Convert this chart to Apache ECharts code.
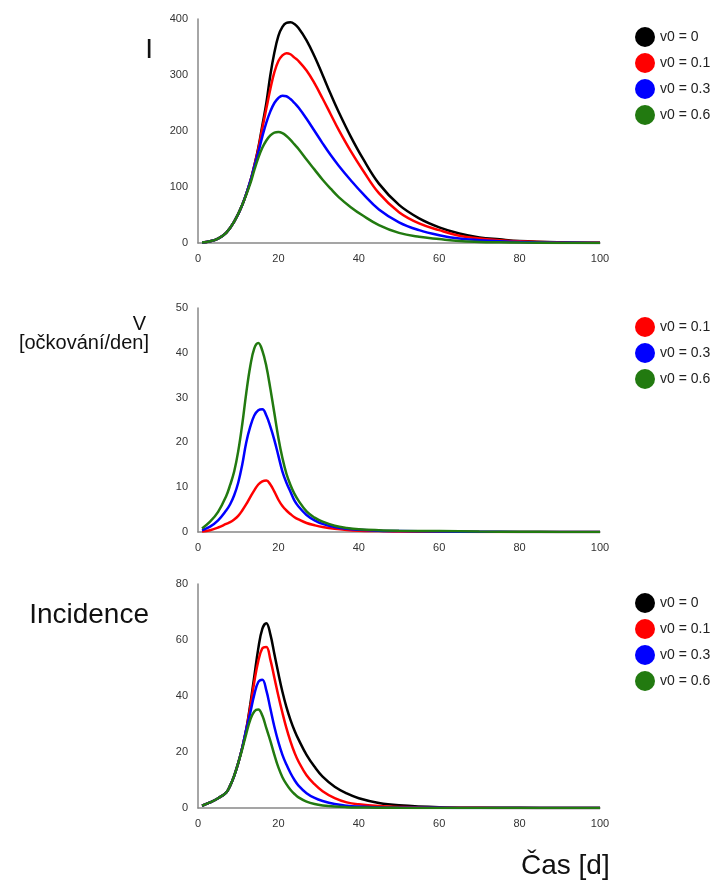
<!DOCTYPE html>
<html>
<head>
<meta charset="utf-8">
<script src="https://cdn.jsdelivr.net/npm/echarts@6/dist/echarts.min.js"></script>
<style>
  html, body { margin: 0; padding: 0; background: #fff; }
  #chart { width: 717px; height: 885px; }
</style>
</head>
<body>
<div id="chart"></div>
<script>
// I (infected) per day
const daysI = [1, 3, 5, 7, 9, 11, 13, 14, 15, 16, 17, 18, 19, 20, 21, 22, 23, 24, 25, 27, 29, 31, 33, 35, 38, 41, 45, 50, 55, 60, 65, 70, 75, 80, 90, 100];
const iV0 = [1, 3, 8, 18, 38, 68, 110, 138, 170, 210, 250, 300, 340, 370, 386, 393, 394, 391, 384, 362, 333, 300, 266, 234, 190, 151, 106, 68, 44, 28, 17, 10, 6.5, 3.5, 1.2, 0.4];
const iV01 = [1, 3, 8, 18, 38, 68, 110, 138, 168, 205, 240, 275, 305, 325, 335, 339, 337, 331, 325, 308, 285, 258, 230, 202, 164, 130, 89, 55, 35, 23, 13, 8, 5, 3, 1, 0.3];
const iV03 = [1, 3, 8, 18, 38, 68, 110, 136, 162, 190, 215, 235, 250, 259, 263, 262, 257, 250, 242, 222, 200, 178, 157, 138, 112, 88, 60, 37, 23, 14, 8, 5, 3, 1.8, 0.6, 0.2];
const iV06 = [1, 3, 8, 18, 38, 68, 106, 130, 152, 170, 183, 192, 197, 198, 196, 191, 184, 176, 168, 149, 131, 113, 97, 82, 64, 49, 32, 18, 11, 7, 3.5, 2, 1.2, 0.7, 0.2, 0.1];

// V (vaccinations per day)
const daysV = [1, 3, 5, 7, 8, 9, 10, 11, 12, 13, 14, 15, 16, 17, 18, 19, 20, 21, 22, 23, 24, 25, 27, 29, 31, 34, 37, 40, 45, 50, 60, 70, 80, 90, 100];
const vV01 = [0.1, 0.4, 1, 1.8, 2.2, 2.8, 3.6, 4.8, 6.2, 7.8, 9.3, 10.6, 11.3, 11.5, 10.6, 9, 7.2, 5.8, 4.8, 4, 3.3, 2.8, 2, 1.5, 1.1, 0.7, 0.45, 0.3, 0.2, 0.1, 0.05, 0.02, 0.01, 0, 0];
const vV03 = [0.4, 1.2, 2.6, 4.8, 6.2, 8.2, 11, 15, 20, 23.5, 26, 27.2, 27.4, 26, 23.5, 20.5, 17, 13.5, 11, 9, 7, 5.7, 3.8, 2.6, 1.8, 1.1, 0.7, 0.5, 0.3, 0.2, 0.1, 0.05, 0.02, 0.01, 0];
const vV06 = [0.8, 2.3, 4.5, 8, 10.5, 13.5, 18, 24, 31, 37, 41, 42.2, 40.5, 37, 32, 26.5, 21, 16.5, 13, 10.5, 8.5, 7, 4.6, 3.2, 2.3, 1.4, 0.9, 0.6, 0.4, 0.3, 0.2, 0.1, 0.05, 0.02, 0.01];

// Incidence per day
const daysN = [1, 3, 5, 7, 8, 9, 10, 11, 12, 13, 14, 15, 16, 17, 18, 19, 20, 21, 22, 23, 24, 25, 27, 29, 31, 34, 37, 40, 45, 50, 60, 70, 80, 90, 100];
const nV0 = [0.8, 2, 3.5, 5.5, 8, 11.5, 16, 21.5, 28, 37, 47, 57, 64, 66, 62, 55, 48, 41.5, 36, 31.5, 27.7, 24.5, 19, 14.7, 11.2, 7.6, 5.2, 3.5, 1.8, 1, 0.3, 0.1, 0.05, 0.02, 0];
const nV01 = [0.8, 2, 3.5, 5.5, 8, 11.5, 16, 21.5, 28, 36, 45, 52.5, 57, 57.5, 53, 46.5, 40, 34, 28.5, 23.8, 19.8, 16.6, 11.7, 8.5, 6, 3.5, 2, 1.3, 0.7, 0.4, 0.1, 0.05, 0.02, 0, 0];
const nV03 = [0.8, 2, 3.5, 5.5, 8, 11.5, 16, 21.5, 28, 34, 40.5, 45, 45.8, 42, 35.5, 29, 23.5, 19, 15.5, 12.5, 10, 8, 5.3, 3.6, 2.5, 1.4, 0.8, 0.5, 0.2, 0.1, 0.05, 0.02, 0, 0, 0];
const nV06 = [0.8, 2, 3.5, 5.5, 8, 11.5, 16, 21, 26.5, 31.5, 34.5, 35.2, 33, 28.5, 24, 19, 14.5, 11, 8.5, 6.5, 5, 3.8, 2.3, 1.4, 0.9, 0.5, 0.3, 0.2, 0.1, 0.05, 0.02, 0, 0, 0, 0];

const names = ["v0 = 0", "v0 = 0.1", "v0 = 0.3", "v0 = 0.6"];
const colors = {
  "v0 = 0": "#000000",
  "v0 = 0.1": "#ff0000",
  "v0 = 0.3": "#0000ff",
  "v0 = 0.6": "#227a10"
};

const yMax = [400, 50, 80];
const yStep = [100, 10, 20];
const gridTops = [19, 308, 584];

function pairs(days, vals) {
  return days.map((d, i) => [d, vals[i]]);
}

function line(name, idx, days, vals) {
  return {
    type: "line",
    name,
    xAxisIndex: idx,
    yAxisIndex: idx,
    smooth: 0.4,
    showSymbol: false,
    color: colors[name],
    lineStyle: { width: 2.5, color: colors[name] },
    data: pairs(days, vals)
  };
}

const axisText = { fontSize: 11, color: "#333", fontFamily: "Arial" };
const axisLine = { show: true, lineStyle: { color: "#888", width: 1.5 } };

const chart = echarts.init(document.getElementById("chart"), null, { renderer: "canvas" });

chart.setOption({
  animation: false,
  backgroundColor: "#ffffff",
  textStyle: { fontFamily: "Arial" },
  grid: gridTops.map(t => ({ left: 198, width: 402, top: t, height: 224 })),
  xAxis: [0, 1, 2].map(i => ({
    type: "value",
    gridIndex: i,
    min: 0,
    max: 100,
    interval: 20,
    axisLine,
    axisTick: { show: false },
    splitLine: { show: false },
    axisLabel: Object.assign({ margin: 10 }, axisText)
  })),
  yAxis: [0, 1, 2].map(i => ({
    type: "value",
    gridIndex: i,
    min: 0,
    max: yMax[i],
    interval: yStep[i],
    axisLine,
    axisTick: { show: false },
    splitLine: { show: false },
    axisLabel: Object.assign({ margin: 10 }, axisText)
  })),
  legend: [
    { data: names, top: 22 },
    { data: names.slice(1), top: 312 },
    { data: names, top: 588 }
  ].map(l => Object.assign({
    orient: "vertical",
    left: 630,
    icon: "circle",
    itemWidth: 20,
    itemHeight: 20,
    itemGap: 6,
    selectedMode: false,
    textStyle: { fontSize: 14, color: "#222", fontFamily: "Arial" }
  }, l)),
  graphic: [
    { type: "text", right: 717 - 153, top: 36, style: { text: "I", font: "28px Arial", fill: "#111" } },
    { type: "text", right: 717 - 146, top: 314, style: { text: "V", font: "20px Arial", fill: "#111" } },
    { type: "text", right: 717 - 149, top: 333, style: { text: "[očkování/den]", font: "20px Arial", fill: "#111" } },
    { type: "text", right: 717 - 149, top: 601, style: { text: "Incidence", font: "28px Arial", fill: "#111" } },
    { type: "text", left: 521, top: 852, style: { text: "Čas [d]", font: "28px Arial", fill: "#111" } }
  ],
  series: [
    line("v0 = 0", 0, daysI, iV0),
    line("v0 = 0.1", 0, daysI, iV01),
    line("v0 = 0.3", 0, daysI, iV03),
    line("v0 = 0.6", 0, daysI, iV06),
    line("v0 = 0.1", 1, daysV, vV01),
    line("v0 = 0.3", 1, daysV, vV03),
    line("v0 = 0.6", 1, daysV, vV06),
    line("v0 = 0", 2, daysN, nV0),
    line("v0 = 0.1", 2, daysN, nV01),
    line("v0 = 0.3", 2, daysN, nV03),
    line("v0 = 0.6", 2, daysN, nV06)
  ]
});
</script>
</body>
</html>
